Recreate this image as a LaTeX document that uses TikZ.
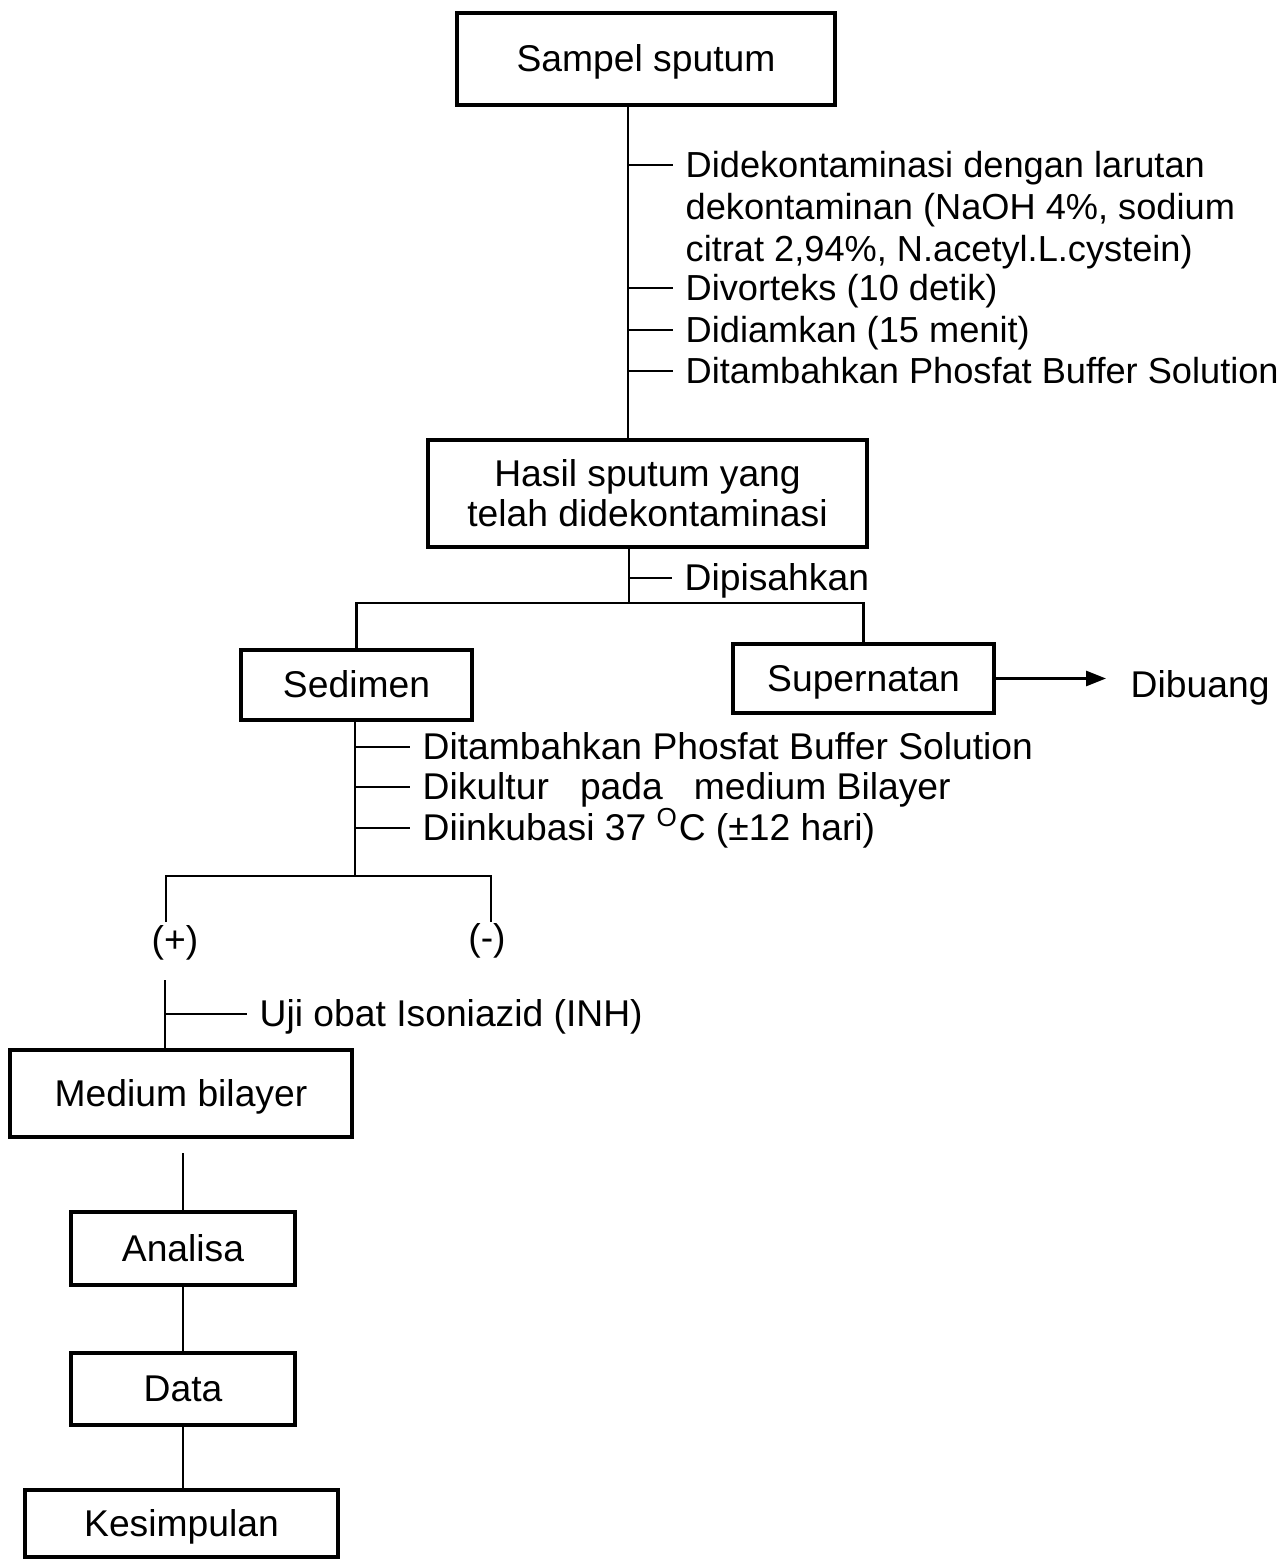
\documentclass[tikz,border=0pt]{standalone}
\usepackage{fontspec}
\setmainfont{Liberation Sans}
\usetikzlibrary{arrows.meta,positioning,calc}

\tikzset{
  procbox/.style={draw, line width=1.2pt, align=center, inner sep=0pt,
    text height=0.72em, text depth=0pt},
  note/.style={anchor=west, inner sep=0.12cm, text height=0.72em, text depth=0pt},
  notesmall/.style={note, font=\fontsize{10.3}{12}\selectfont},
  link/.style={line width=0.8pt},
}

\begin{document}
\begin{tikzpicture}[font=\fontsize{10.6}{11.4}\selectfont]
\useasboundingbox (0,0) rectangle (12.84cm,-15.6cm);

\node[procbox, minimum width=3.78cm, minimum height=0.92cm] (sampel) at (6.46cm,-0.59cm) {Sampel sputum};
\node[procbox, text height=19.03pt, minimum width=4.39cm, minimum height=1.07cm] (hasil) at (6.475cm,-4.935cm) {Hasil sputum yang\\telah didekontaminasi};
\node[procbox, minimum width=2.31cm, minimum height=0.70cm] (sedimen) at (3.565cm,-6.85cm) {Sedimen};
\node[procbox, minimum width=2.61cm, minimum height=0.69cm] (supernatan) at (8.635cm,-6.785cm) {Supernatan};
\node[note, inner xsep=0.24cm] (dibuang) at (11.06cm,-6.85cm) {Dibuang};
\node (pos) at (1.75cm,-9.43cm) {(+)};
\node (neg) at (4.87cm,-9.41cm) {(-)};
\node[procbox, minimum width=3.42cm, minimum height=0.87cm] (medium) at (1.81cm,-10.935cm) {Medium bilayer};
\node[procbox, minimum width=2.24cm, minimum height=0.73cm] (analisa) at (1.83cm,-12.485cm) {Analisa};
\node[procbox, minimum width=2.24cm, minimum height=0.72cm] (data) at (1.83cm,-13.89cm) {Data};
\node[procbox, minimum width=3.13cm, minimum height=0.67cm] (kesimpulan) at (1.815cm,-15.235cm) {Kesimpulan};

\node[notesmall] (dekon1) at (6.73cm,-1.65cm) {Didekontaminasi dengan larutan};
\node[notesmall] (dekon2) at (6.73cm,-2.07cm) {dekontaminan (NaOH 4\%, sodium};
\node[notesmall] (dekon3) at (6.73cm,-2.49cm) {citrat 2,94\%, N.acetyl.L.cystein)};
\node[notesmall] (vorteks) at (6.73cm,-2.88cm) {Divorteks (10 detik)};
\node[notesmall] (diam) at (6.73cm,-3.30cm) {Didiamkan (15 menit)};
\node[notesmall] (buffer1) at (6.73cm,-3.71cm) {Ditambahkan Phosfat Buffer Solution};
\node[note] (pisah) at (6.72cm,-5.78cm) {Dipisahkan};
\node[note] (buffer2) at (4.10cm,-7.47cm) {Ditambahkan Phosfat Buffer Solution};
\node[note] (kultur) at (4.10cm,-7.87cm) {Dikultur\ \ \ pada\ \ \ medium Bilayer};
\node[note] (inkubasi) at (4.10cm,-8.28cm) {Diinkubasi 37 \textsuperscript{O}C (±12 hari)};
\node[note] (uji) at (2.47cm,-10.14cm) {Uji obat Isoniazid (INH)};

\coordinate (trunk) at (6.28cm,0);
\coordinate (fork) at (6.29cm,-6.03cm);
\coordinate (split) at (3.55cm,-8.76cm);
\coordinate (lpos) at (1.66cm,-9.22cm);
\coordinate (lneg) at (4.91cm,-9.22cm);
\coordinate (lup) at (1.65cm,-9.80cm);

\draw[link] (sampel.south -| trunk) -- (hasil.north -| trunk);
\draw[link] (dekon1.west -| trunk) -- (dekon1.west);
\draw[link] (vorteks.west -| trunk) -- (vorteks.west);
\draw[link] (diam.west -| trunk) -- (diam.west);
\draw[link] (buffer1.west -| trunk) -- (buffer1.west);

\draw[link] (hasil.south -| fork) -- (fork);
\draw[link] (pisah.west -| fork) -- (pisah.west);
\draw[link] (sedimen.north) |- (fork) -| (supernatan.north);
\draw[link, -{Triangle[length=0.2cm, width=0.15cm]}] (supernatan.east) -- (supernatan.east -| dibuang.west);

\draw[link] (sedimen.south -| split) -- (split);
\draw[link] (buffer2.west -| split) -- (buffer2.west);
\draw[link] (kultur.west -| split) -- (kultur.west);
\draw[link] (inkubasi.west -| split) -- (inkubasi.west);
\draw[link] (lpos) |- (split) -| (lneg);

\draw[link] (lup) -- (lup |- medium.north);
\draw[link] (uji.west -| lup) -- (uji.west);
\draw[link, shorten <=0.14cm] (medium.south -| analisa.north) -- (analisa.north);
\draw[link] (analisa) -- (data);
\draw[link] (data.south) -- (data.south |- kesimpulan.north);
\end{tikzpicture}
\end{document}
